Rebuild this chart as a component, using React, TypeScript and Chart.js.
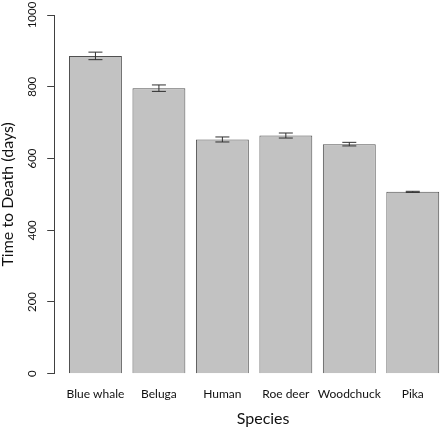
import { useEffect, useRef } from "react"
import { Chart, registerables, type Plugin } from "chart.js"

Chart.register(...registerables)

const species = ["Blue whale", "Beluga", "Human", "Roe deer", "Woodchuck", "Pika"]
const timeToDeath = [886, 796, 653, 664, 640, 507]
const stdError = [10.5, 9, 7, 7, 5, 1.5]
const yTicks = [0, 200, 400, 600, 800, 1000]

// R barplot layout: bar width 1, space 0.2, so centres sit at 0.7, 1.9, ...
const barCenters = species.map((_, i) => 0.2 + i * 1.2 + 0.5)

const FONT = "Lato, 'Open Sans', sans-serif"
const LINE = "#404040"

const errorBars: Plugin<"bar"> = {
  id: "errorBars",
  afterDatasetsDraw(chart) {
    const { ctx } = chart
    const yScale = chart.scales.y
    const meta = chart.getDatasetMeta(0)
    ctx.save()
    ctx.strokeStyle = "#303030"
    ctx.lineWidth = 1
    meta.data.forEach((bar, i) => {
      const x = bar.x
      const top = yScale.getPixelForValue(timeToDeath[i] + stdError[i])
      const bottom = yScale.getPixelForValue(timeToDeath[i] - stdError[i])
      ctx.beginPath()
      ctx.moveTo(x, top)
      ctx.lineTo(x, bottom)
      ctx.moveTo(x - 7, top)
      ctx.lineTo(x + 7, top)
      ctx.moveTo(x - 7, bottom)
      ctx.lineTo(x + 7, bottom)
      ctx.stroke()
    })
    ctx.restore()
  },
}

export default function App() {
  const canvasRef = useRef<HTMLCanvasElement>(null)

  useEffect(() => {
    if (!canvasRef.current) return
    const chart = new Chart(canvasRef.current, {
      type: "bar",
      data: {
        datasets: [
          {
            data: barCenters.map((x, i) => ({ x, y: timeToDeath[i] })),
            backgroundColor: "#c2c2c2",
            borderColor: "#505050",
            borderWidth: 1,
            categoryPercentage: 1,
            barPercentage: 1 / 1.2,
          },
        ],
      },
      options: {
        animation: false,
        responsive: true,
        maintainAspectRatio: false,
        layout: { padding: { top: 15, left: 0, right: 0, bottom: 0 } },
        plugins: {
          legend: { display: false },
          tooltip: { enabled: false },
        },
        scales: {
          x: {
            type: "linear",
            min: -0.08,
            max: 7.82,
            offset: false,
            afterBuildTicks: (scale) => {
              scale.ticks = barCenters.map((value) => ({ value }))
            },
            grid: { display: false, drawTicks: false },
            border: { display: false },
            ticks: {
              autoSkip: false,
              maxRotation: 0,
              padding: 13,
              color: "#111",
              font: { family: FONT, size: 12 },
              callback: (_v, i) => species[i],
            },
            title: {
              display: true,
              text: "Species",
              color: "#111",
              font: { family: FONT, size: 16, lineHeight: 1.2 },
              padding: { top: 0, bottom: 1 },
            },
            afterFit: (scale) => {
              scale.height = 55.3
            },
          },
          y: {
            min: 0,
            max: 1000,
            afterBuildTicks: (scale) => {
              scale.ticks = yTicks.map((value) => ({ value }))
            },
            grid: { drawOnChartArea: false, drawTicks: true, tickLength: 7, color: LINE },
            border: { display: true, color: LINE },
            ticks: {
              minRotation: 90,
              maxRotation: 90,
              crossAlign: "center",
              padding: 2,
              color: "#111",
              font: { family: FONT, size: 11.5 },
              callback: (v) => String(v),
            },
            title: {
              display: true,
              text: "Time to Death (days)",
              color: "#111",
              font: { family: FONT, size: 16, lineHeight: 1 },
              padding: 0,
            },
            afterFit: (scale) => {
              scale.width = 54.2
            },
          },
        },
      },
      plugins: [errorBars],
    })
    return () => chart.destroy()
  }, [])

  return (
    <div style={{ position: "fixed", left: 0, top: 0, width: 440, height: 429, overflow: "hidden", background: "#fff" }}>
      <div style={{ position: "relative", width: 472, height: 429 }}>
        <canvas ref={canvasRef} />
      </div>
    </div>
  )
}
